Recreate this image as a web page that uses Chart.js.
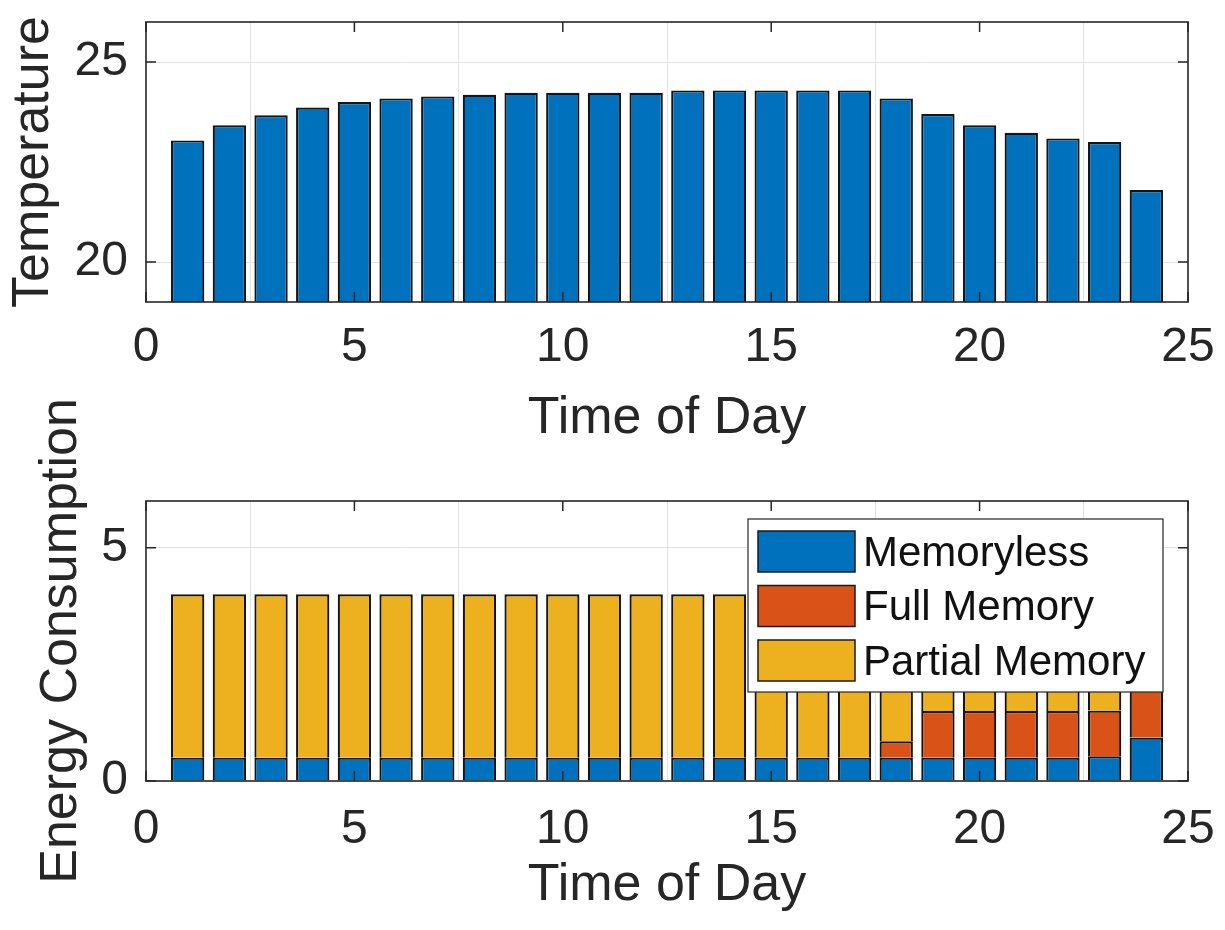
<!DOCTYPE html>
<html>
<head>
<meta charset="utf-8">
<script src="https://cdn.jsdelivr.net/npm/chart.js@4.4.1/dist/chart.umd.min.js"></script>
<style>
html,body{margin:0;padding:0;background:#ffffff;}
#wrap{position:relative;width:1225px;height:930px;overflow:hidden;}
canvas{position:absolute;left:0;}
#c1{top:0;}
#c2{top:380px;}
</style>
</head>
<body>
<div id="wrap">
<canvas id="c1" width="1225" height="465"></canvas>
<canvas id="c2" width="1225" height="550"></canvas>
</div>
<script>
// ---- data ----
const hours = [1,2,3,4,5,6,7,8,9,10,11,12,13,14,15,16,17,18,19,20,21,22,23,24];
const temperature = [23.04,23.42,23.67,23.86,24.0,24.09,24.14,24.18,24.23,24.23,24.23,24.23,
                     24.29,24.29,24.29,24.29,24.29,24.09,23.70,23.42,23.23,23.09,23.0,21.8];
const memoryless    = [0.5,0.5,0.5,0.5,0.5,0.5,0.5,0.5,0.5,0.5,0.5,0.5,0.5,0.5,0.5,0.5,0.5,0.5,0.5,0.5,0.5,0.5,0.53,0.93];
const fullMemory    = [0,0,0,0,0,0,0,0,0,0,0,0,0,0,0,0,0,0.35,1.0,1.0,1.0,1.0,0.98,1.07];
const partialMemory = [3.5,3.5,3.5,3.5,3.5,3.5,3.5,3.5,3.5,3.5,3.5,3.5,3.5,3.5,3.5,3.5,3.5,3.15,2.5,2.5,2.5,2.5,2.49,2.0];
const seriesLabels = ['Memoryless','Full Memory','Partial Memory'];
const xTickValues = [0,5,10,15,20,25];
const tempTickValues = [20,25];
const energyTickValues = [0,5];
const xLabel = 'Time of Day';
const tempLabel = 'Temperature';
const energyLabel = 'Energy Consumption';

// ---- styling ----
const FONT = '"Liberation Sans", Arial, Helvetica, sans-serif';
const AXIS_COLOR = '#262626';
const GRID_COLOR = '#e2e2e2';
const BLUE = '#0072BD', ORANGE = '#D95319', YELLOW = '#EDB120';
Chart.defaults.font.family = FONT;
Chart.defaults.color = AXIS_COLOR;

const pts = (arr) => hours.map((h, i) => ({x: h, y: arr[i]}));

const framePlugin = {
  id: 'frame',
  afterDatasetsDraw(chart) {
    const {ctx, chartArea: a, scales} = chart;
    ctx.save();
    ctx.strokeStyle = AXIS_COLOR;
    ctx.lineWidth = 1.5;
    const L = 10;
    ctx.beginPath();
    scales.x.ticks.forEach(t => {
      const px = scales.x.getPixelForValue(t.value);
      ctx.moveTo(px, a.bottom); ctx.lineTo(px, a.bottom - L);
      ctx.moveTo(px, a.top); ctx.lineTo(px, a.top + L);
    });
    scales.y.ticks.forEach(t => {
      const py = scales.y.getPixelForValue(t.value);
      ctx.moveTo(a.left, py); ctx.lineTo(a.left + L, py);
      ctx.moveTo(a.right, py); ctx.lineTo(a.right - L, py);
    });
    ctx.stroke();
    ctx.lineWidth = 1.6;
    ctx.strokeRect(a.left, a.top, a.right - a.left, a.bottom - a.top);
    ctx.restore();
  }
};

const boxLegend = {
  id: 'boxLegend',
  afterDraw(chart) {
    const {ctx, chartArea: a} = chart;
    const w = 415, h = 173;
    const x0 = a.right - 25 - w, y0 = a.top + 18;
    ctx.save();
    ctx.fillStyle = '#ffffff';
    ctx.fillRect(x0, y0, w, h);
    ctx.strokeStyle = AXIS_COLOR;
    ctx.lineWidth = 1.2;
    ctx.strokeRect(x0, y0, w, h);
    ctx.font = '42px ' + FONT;
    ctx.textBaseline = 'middle';
    ctx.textAlign = 'left';
    chart.data.datasets.forEach((ds, i) => {
      const sy = y0 + 12 + i * 54.5;
      ctx.fillStyle = ds.backgroundColor;
      ctx.fillRect(x0 + 10, sy, 97, 41);
      ctx.lineWidth = 1.5;
      ctx.strokeStyle = '#1a1a1a';
      ctx.strokeRect(x0 + 10, sy, 97, 41);
      ctx.fillStyle = '#111111';
      ctx.fillText(ds.label, x0 + 115, sy + 23);
    });
    ctx.restore();
  }
};

function xScale(axisHeight, tickPad, titlePadBottom, stacked) {
  return {
    type: 'linear', min: 0, max: 25, offset: false, stacked: stacked,
    afterBuildTicks: s => { s.ticks = xTickValues.map(v => ({value: v})); },
    afterFit: s => { s.height = axisHeight; s.paddingLeft = 0; s.paddingRight = 0; },
    grid: {color: GRID_COLOR, lineWidth: 1, drawTicks: false},
    border: {display: false},
    ticks: {font: {size: 48}, padding: tickPad, maxRotation: 0, autoSkip: false, color: AXIS_COLOR},
    title: {display: true, text: xLabel, font: {size: 52}, color: AXIS_COLOR,
            padding: {top: 0, bottom: titlePadBottom}}
  };
}
function yScale(min, max, tickVals, label, titlePadTop, stacked) {
  return {
    type: 'linear', min: min, max: max, stacked: stacked,
    afterBuildTicks: s => { s.ticks = tickVals.map(v => ({value: v})); },
    afterFit: s => { s.width = 146; s.paddingTop = 0; s.paddingBottom = 0; },
    grid: {color: GRID_COLOR, lineWidth: 1, drawTicks: false},
    border: {display: false},
    ticks: {font: {size: 48}, padding: 18, color: AXIS_COLOR},
    title: {display: true, text: label, font: {size: 52}, color: AXIS_COLOR,
            padding: {top: titlePadTop, bottom: 0}}
  };
}

const common = {
  responsive: false,
  animation: false,
  events: [],
  plugins: {legend: {display: false}, tooltip: {enabled: false}},
};

new Chart(document.getElementById('c1'), {
  type: 'bar',
  data: {
    datasets: [{
      label: tempLabel,
      data: pts(temperature),
      backgroundColor: BLUE,
      borderColor: '#151515',
      borderWidth: 2.2,
      barPercentage: 0.8,
      categoryPercentage: 1.0,
      clip: 0
    }]
  },
  options: Object.assign({}, common, {
    layout: {padding: {left: 0, right: 37, top: 22, bottom: 0}},
    scales: {
      x: xScale(163, 17, 15, false),
      y: yScale(19, 26, tempTickValues, tempLabel, 2, false)
    }
  }),
  plugins: [framePlugin]
});

const colors = [BLUE, ORANGE, YELLOW];
const energySeries = [memoryless, fullMemory, partialMemory];
new Chart(document.getElementById('c2'), {
  type: 'bar',
  data: {
    datasets: energySeries.map((arr, i) => ({
      label: seriesLabels[i],
      data: pts(arr),
      backgroundColor: colors[i],
      borderColor: '#151515',
      borderWidth: 2.2,
      barPercentage: 0.8,
      categoryPercentage: 1.0,
      clip: 0
    }))
  },
  options: Object.assign({}, common, {
    layout: {padding: {left: 0, right: 37, top: 121, bottom: 0}},
    scales: {
      x: xScale(149, 20, 13, true),
      y: yScale(0, 6, energyTickValues, energyLabel, 30, true)
    }
  }),
  plugins: [framePlugin, boxLegend]
});
</script>
</body>
</html>
